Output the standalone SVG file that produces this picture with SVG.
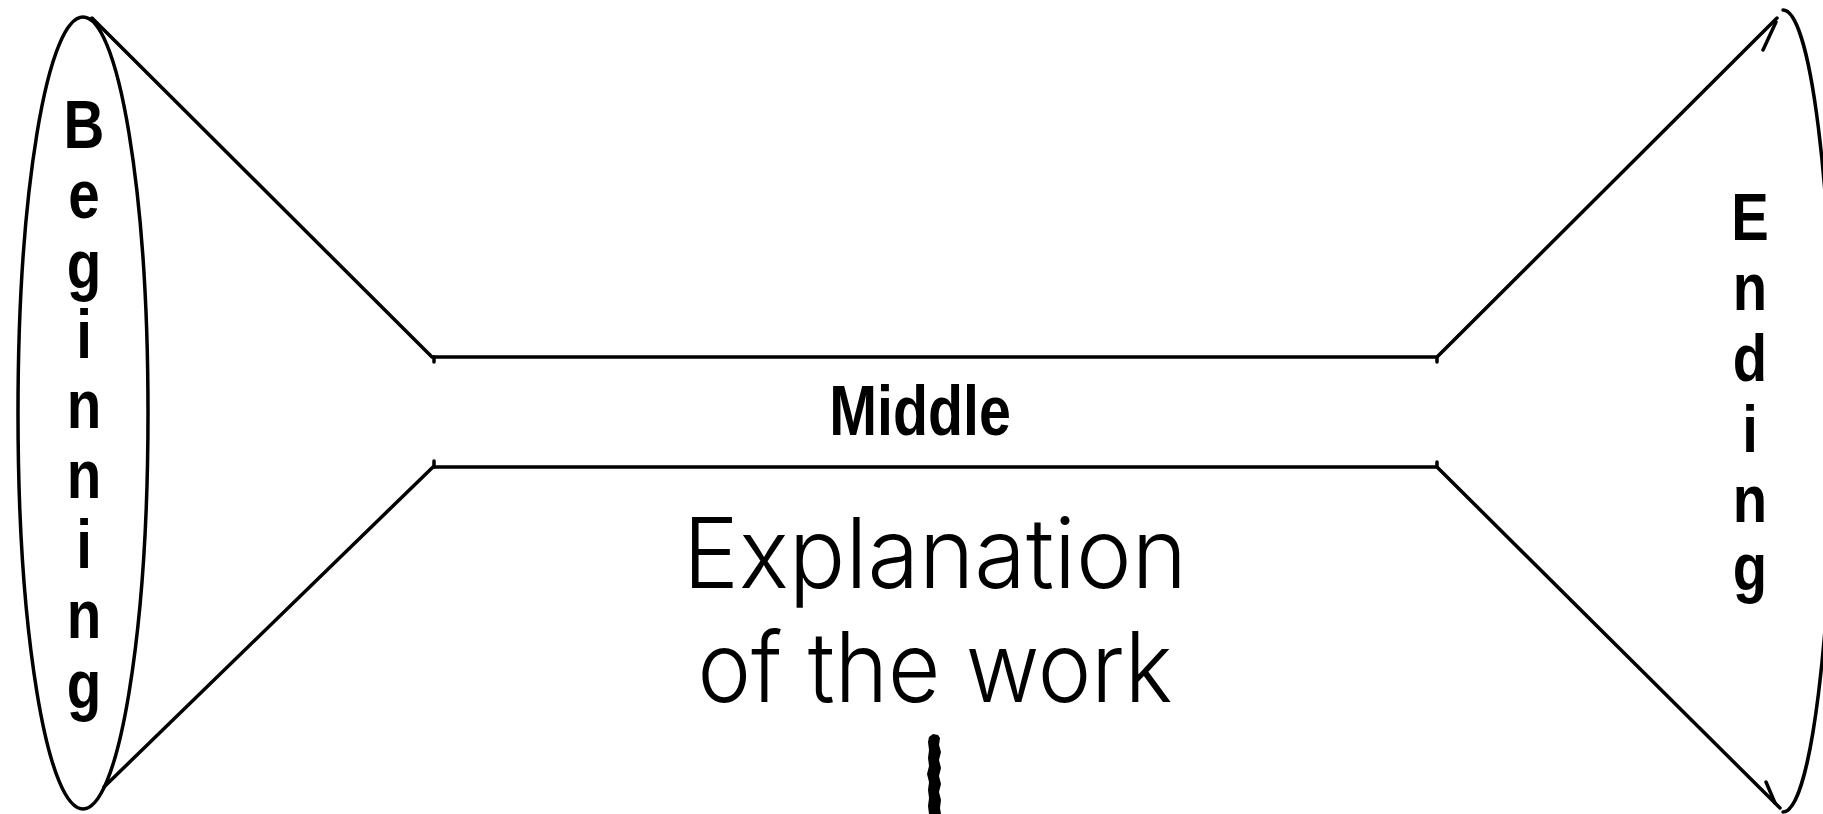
<svg xmlns="http://www.w3.org/2000/svg" width="1823" height="814" viewBox="0 0 1823 814">
<style>
.ln{fill:none;stroke:#000;stroke-width:3.5;stroke-linecap:round;stroke-linejoin:round}
.bold{font-family:"Liberation Sans",Arial,sans-serif;font-weight:bold;fill:#000;text-anchor:middle}
.thin{font-family:Inter,Roboto,"Liberation Sans",sans-serif;font-weight:300;fill:#000;text-anchor:middle}
</style>
<rect width="1823" height="814" fill="#fff"/>
<g id="beginning">
<ellipse class="ln" cx="83" cy="413" rx="65" ry="396"/>
<g transform="translate(84,0) scale(0.82,1)" class="bold" font-size="69">
<text x="0" y="148">B</text>
<text x="0" y="218">e</text>
<text x="0" y="288">g</text>
<text x="0" y="358">i</text>
<text x="0" y="428">n</text>
<text x="0" y="498">n</text>
<text x="0" y="568">i</text>
<text x="0" y="638">n</text>
<text x="0" y="708">g</text>
</g>
</g>
<g id="ending">
<path class="ln" d="M1783,10 A50,401 0 0 1 1783,812"/>
<g transform="translate(1750,0) scale(0.84,1)" class="bold" font-size="67">
<text x="0" y="240">E</text>
<text x="0" y="310.5">n</text>
<text x="0" y="381">d</text>
<text x="0" y="452">i</text>
<text x="0" y="522.5">n</text>
<text x="0" y="590">g</text>
</g>
</g>
<g id="middle">
<text class="bold" font-size="70" transform="translate(920,435) scale(0.82,1)" x="0" y="0">Middle</text>
</g>
<g id="explanation">
<text class="thin" font-size="97" x="935" y="588" textLength="504" lengthAdjust="spacingAndGlyphs">Explanation</text>
<text class="thin" font-size="97" x="935" y="702" textLength="475" lengthAdjust="spacingAndGlyphs">of the work</text>
</g>
<g id="connectors">
<path class="ln" d="M92,18 L432,357 L1437,357 L1777,18"/>
<path class="ln" d="M104,787 L433,467 L1437,467 L1780,808"/>
<path class="ln" d="M434,357 L434,362 M434,467 L434,461 M1437,357 L1437,362 M1437,467 L1437,462"/>
<path class="ln" stroke-width="2" d="M1763,50 L1776,22 M1766,782 L1775,803"/>
</g>
<g id="pencil">
<path fill="#000" d="M929,737 L933,734 L938,735 L940,738 L939,745 L941,752 L939,760 L941,768 L939,776 L941,784 L939,792 L941,800 L940,808 L941,814 L929,814 L928,806 L929,798 L928,790 L929,782 L927,774 L929,766 L928,758 L929,750 L928,742 Z"/>
</g>
</svg>
